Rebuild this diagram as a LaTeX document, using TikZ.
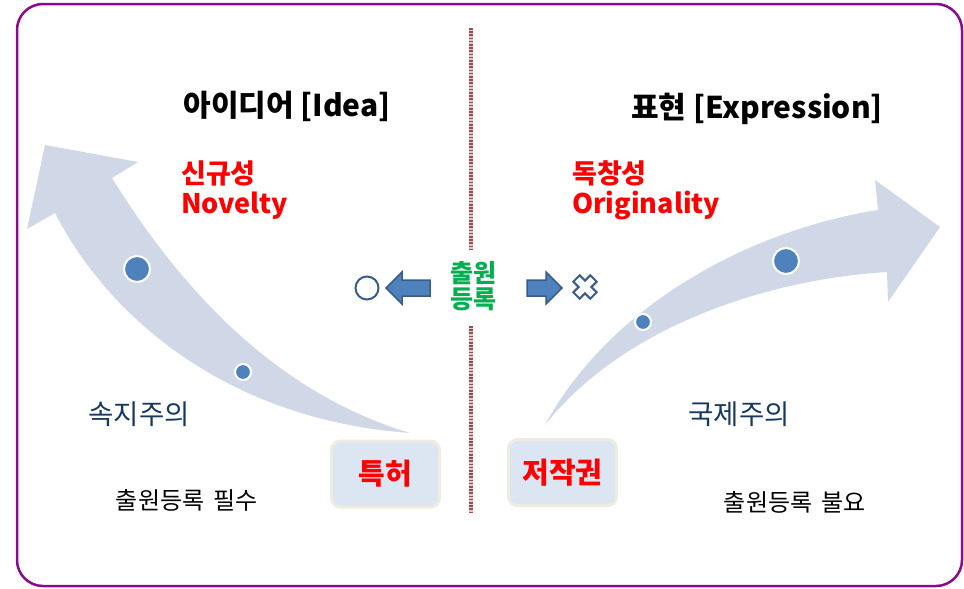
\documentclass[tikz,border=0pt]{standalone}
\usepackage{fontspec}
\setmainfont{Noto Sans CJK KR}
\definecolor{frame}{HTML}{8B0A8B}
\definecolor{band}{HTML}{D0D8E8}
\definecolor{dotc}{HTML}{4F81BD}
\definecolor{dark}{HTML}{385D8A}
\definecolor{navy}{HTML}{17375E}
\definecolor{grn}{HTML}{00B050}
\definecolor{boxfill}{HTML}{DCE6F2}
\definecolor{boxline}{HTML}{EEECE1}
\definecolor{sepred}{HTML}{A84848}
\definecolor{seppale}{HTML}{DDC6C6}
\tikzset{
  title/.style={font=\bfseries\fontsize{30}{36}\selectfont, text=black},
  redlbl/.style={font=\bfseries\fontsize{27}{32}\selectfont, text=red, anchor=west, inner sep=0},
  navylbl/.style={font=\fontsize{27.5}{32}\selectfont, text=navy},
  blacklbl/.style={font=\fontsize{24}{28}\selectfont, text=black},
  lawbox/.style={draw=boxline, line width=3pt, fill=boxfill, rounded corners=9pt,
     minimum width=108pt, minimum height=66pt, text=red, font=\bfseries\fontsize{29}{34}\selectfont},
  bigdot/.style={fill=dotc, draw=white, line width=2pt},
  blockarrow/.style={fill=dotc, draw=dark, line width=1.5pt, line join=miter},
  sepline/.style={seppale, line width=3.5pt},
  sepdash/.style={sepred, line width=3.5pt, dash pattern=on 1.6pt off 1.6pt},
}
\begin{document}
\begin{tikzpicture}[x=1pt,y=-1pt]
\useasboundingbox (0,0) rectangle (964,589);
% frame
\draw[frame, line width=2.5pt, rounded corners=26pt] (17,4) rectangle (962,586);

% separator
\draw[sepline] (471,28) -- (471,250);
\draw[sepdash] (471,28) -- (471,250);
\draw[sepline] (471,326) -- (471,513);
\draw[sepdash] (471,326) -- (471,513);

% left curved arrow
\fill[band] (410,433) .. controls (230,420) and (110,320) .. (55,213)
   -- (27,229) -- (45,145) -- (138,162) -- (112,178)
   .. controls (200,320) and (300,400) .. (410,433) -- cycle;
\draw[bigdot] (137,269) circle (13);
\draw[bigdot] (243,372) circle (8);

% right curved arrow
\fill[band] (545,425) .. controls (610,305) and (750,230) .. (878,210)
   -- (875,180) -- (940,227) -- (888,302) -- (887,272)
   .. controls (760,280) and (620,330) .. (545,425) -- cycle;
\draw[bigdot] (786,261) circle (13);
\draw[bigdot] (643,322) circle (8);

% titles
\node[title] (idea) at (287,106) {아이디어 [Idea]};
\node[title] (expr) at (757,109) {표현 [Expression]};

% red labels
\node[redlbl] (nov1) at (181,173) {신규성};
\node[redlbl] (nov2) at (181,206) {Novelty};
\node[redlbl] (ori1) at (572,173) {독창성};
\node[redlbl] (ori2) at (572,206) {Originality};

% center
\node[font=\bfseries\fontsize{25}{28}\selectfont, text=grn, align=center, inner sep=0] (reg) at (473,286) {출원\\[-2pt]등록};
\draw[blockarrow] (430,280) -- (402,280) -- (402,272) -- (386,288) -- (402,304) -- (402,296) -- (430,296) -- cycle;
\draw[blockarrow] (527,280) -- (546,280) -- (546,272) -- (562,288) -- (546,304) -- (546,296) -- (527,296) -- cycle;
\draw[dark, line width=2pt] (367,288) circle (11.5);
\begin{scope}[shift={(585,287)}, rotate=45]
\draw[dark, line width=2pt, fill=white, line join=miter]
 (4.5,12) -- (4.5,4.5) -- (12,4.5) -- (12,-4.5) -- (4.5,-4.5) -- (4.5,-12)
 -- (-4.5,-12) -- (-4.5,-4.5) -- (-12,-4.5) -- (-12,4.5) -- (-4.5,4.5) -- (-4.5,12) -- cycle;
\end{scope}

% lower texts
\node[navylbl] (sok) at (139,414) {속지주의};
\node[navylbl] (guk) at (739,414) {국제주의};
\node[blacklbl] (must) at (187,500) {출원등록\hspace{0.4em}필수};
\node[blacklbl] (noneed) at (795,502) {출원등록\hspace{0.4em}불요};

% boxes
\node[lawbox] (patent) at (385.5,474) {특허};
\node[lawbox] (copy) at (562.5,472.5) {저작권};
\end{tikzpicture}
\end{document}
